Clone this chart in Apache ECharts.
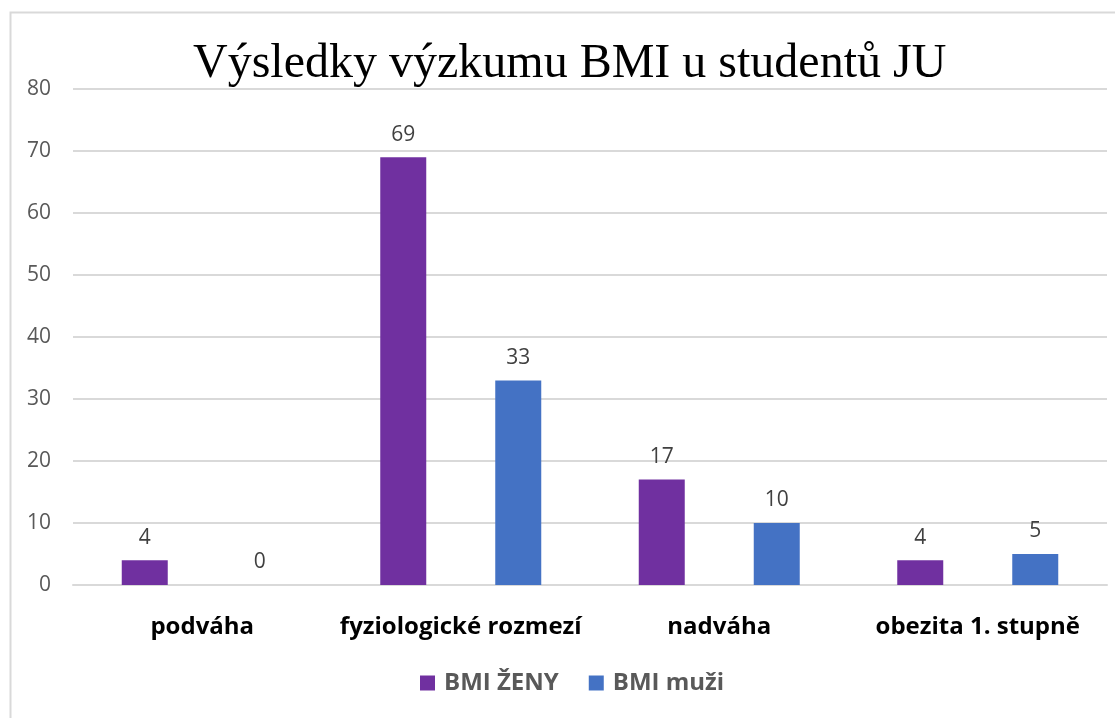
<!DOCTYPE html>
<html>
<head>
<meta charset="utf-8">
<script src="https://cdn.jsdelivr.net/npm/echarts@6/dist/echarts.min.js"></script>
<style>
	html, body { margin: 0; padding: 0; background: #fff; }
	#chart { width: 1115px; height: 718px; }
</style>
</head>
<body>
<div id="chart"></div>
<script>
const categories = ["podváha", "fyziologické rozmezí", "nadváha", "obezita 1. stupně"];
const zeny = [4, 69, 17, 4];
const muzi = [0, 33, 10, 5];
const yTicks = { min: 0, max: 80, interval: 10 };

const myChart = echarts.init(document.getElementById("chart"));

const labelStyle = {
	show: true,
	position: "top",
	distance: 12,
	color: "#404040",
	fontSize: 21,
	fontFamily: "Open Sans",
};

myChart.setOption({
	animation: false,
	title: {
		text: "Výsledky výzkumu BMI u studentů JU",
		left: 188,
		top: 35,
		textStyle: {
			fontFamily: "Liberation Serif",
			fontWeight: "normal",
			fontSize: 48,
			color: "#000",
		},
	},
	// rámeček grafu
	graphic: [
		{
			type: "rect",
			left: 8,
			top: 10,
			shape: { width: 1200, height: 800 },
			style: { fill: "none", stroke: "#d9d9d9", lineWidth: 2 },
			silent: true,
		},
	],
	legend: {
		bottom: 18,
		left: 415,
		itemWidth: 15,
		itemHeight: 15,
		itemGap: 30,
		icon: "rect",
		textStyle: {
			fontFamily: "Open Sans",
			fontWeight: "bold",
			fontSize: 24,
			color: "#595959",
			padding: [0, 0, 0, 4],
		},
	},
	grid: {
		left: 73,
		right: 8,
		top: 89,
		bottom: 133,
	},
	xAxis: {
		type: "category",
		data: categories,
		axisTick: { show: false },
		axisLine: { lineStyle: { color: "#d9d9d9", width: 2 } },
		axisLabel: {
			interval: 0,
			margin: 30,
			fontFamily: "Open Sans",
			fontWeight: "bold",
			fontSize: 24,
			color: "#000",
		},
	},
	yAxis: {
		type: "value",
		min: yTicks.min,
		max: yTicks.max,
		interval: yTicks.interval,
		axisLine: { show: false },
		axisTick: { show: false },
		splitLine: { lineStyle: { color: "#d9d9d9", width: 2 } },
		axisLabel: {
			margin: 22,
			fontFamily: "Open Sans",
			fontSize: 21,
			color: "#595959",
		},
	},
	series: [
		{
			name: "BMI ŽENY",
			type: "bar",
			data: zeny,
			barWidth: 46,
			barGap: "150%",
			itemStyle: { color: "#7030A0" },
			label: labelStyle,
		},
		{
			name: "BMI muži",
			type: "bar",
			data: muzi,
			barWidth: 46,
			itemStyle: { color: "#4472C4" },
			label: labelStyle,
		},
	],
});

window.onresize = function () {
	myChart.resize();
};
</script>
</body>
</html>
